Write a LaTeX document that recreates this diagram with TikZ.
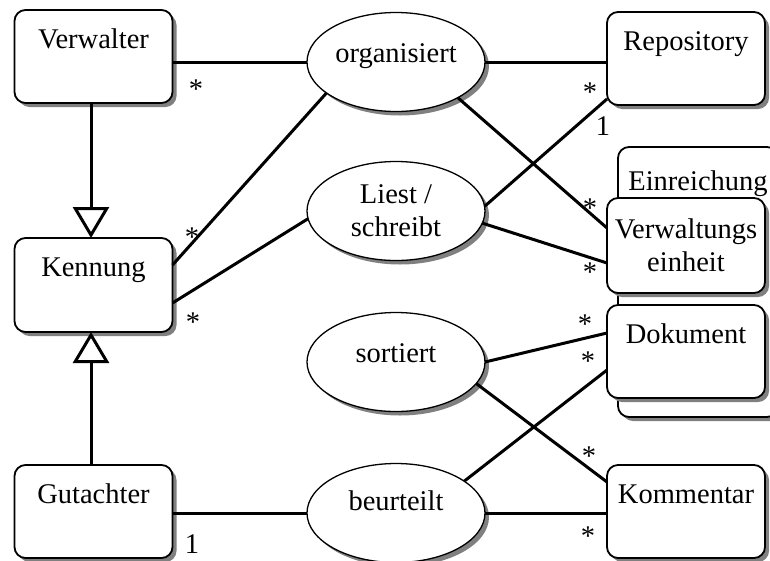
\documentclass[tikz,border=0pt]{standalone}
\usepackage{fontspec}
\setmainfont{Liberation Serif}
\usetikzlibrary{shapes.geometric,shadows,arrows.meta}
\begin{document}
\begin{tikzpicture}[x=1pt,y=-1pt,
  font=\fontsize{28.5}{33}\selectfont,
  boxshadow/.style={drop shadow={shadow xshift=4pt,shadow yshift=-4pt,fill=black!50,opacity=1}},
  entity/.style={draw,line width=1.8pt,rounded corners=11pt,fill=white,boxshadow,
    minimum width=158pt,minimum height=93pt,inner sep=0pt,outer sep=0pt,align=center},
  oneline/.style={text height=0pt,text depth=17pt},
  relation/.style={ellipse,draw,line width=1.3pt,fill=white,boxshadow,
    minimum width=178pt,minimum height=99pt,inner sep=0pt,outer sep=0pt,align=center},
  flat/.style={text height=0pt,text depth=0pt},
  assoc/.style={line width=3pt},
  inherit/.style={line width=3pt,-{Triangle[open,length=31pt,width=36pt]}},
  mult/.style={anchor=base,inner sep=0pt}
]
\useasboundingbox (0,0) rectangle (770,560);

% left column: actors
\node[entity,oneline] (verw) at (93.5,56.5) {Verwalter};
\node[entity,oneline,minimum height=94pt] (kenn) at (93.5,285) {Kennung};
\node[entity,oneline] (gut) at (93.5,511.5) {Gutachter};

% middle column: relations
\node[relation,flat] (org) at (396,62) {organisiert};
\node[relation] (lie) at (396,211) {Liest /\\schreibt};
\node[relation,flat] (sor) at (396,362) {sortiert};
\node[relation,text height=0pt,text depth=6pt] (beu) at (396,513) {beurteilt};

% right column: objects
\node[entity,oneline] (repo) at (686,58.5) {Repository};
\node[entity,minimum width=160pt,minimum height=270pt] (ein) at (698,282) {};
\node[anchor=base,inner sep=0pt] (eintitle) at ([yshift=-43pt]ein.north) {Einreichung};
\node[entity,minimum height=95pt] (ve) at (686,245.5) {Verwaltungs\\einheit};
\node[entity,oneline] (dok) at (686,351.5) {Dokument};
\node[entity,oneline] (komm) at (686,511.5) {Kommentar};

% generalisation
\draw[inherit] ([xshift=-2.5pt]verw.south) -- ([xshift=-2.5pt]kenn.north);
\draw[inherit] ([xshift=-2.5pt]gut.north) -- ([xshift=-2.5pt]kenn.south);

% associations
\draw[assoc] (org.west -| verw.east) -- (org.west);
\draw[assoc] (org.east) -- (org.east -| repo.west);
\draw[assoc] (org.-30) -- ([yshift=17.5pt]ve.west);
\draw[assoc] (lie.3) -- ([yshift=6pt]repo.south west);
\draw[assoc] (lie.-8) -- ([yshift=-17.5pt]ve.west);
\draw[assoc] ([yshift=20pt]kenn.east) -- (org.-156);
\draw[assoc] ([yshift=-18pt]kenn.east) -- (lie.185);
\draw[assoc] (beu.west -| gut.east) -- (beu.west);
\draw[assoc] (sor.east) -- ([yshift=18.5pt]dok.west);
\draw[assoc] (sor.-15) -- ([yshift=29.5pt]komm.west);
\draw[assoc] (beu.25) -- ([yshift=-18.5pt]dok.west);
\draw[assoc] (beu.east) -- (beu.east -| komm.west);

% multiplicities
\node[mult] (m1) at (196,98) {*};
\node[mult] (m2) at (590,101) {*};
\node[mult] (m3) at (590,217) {*};
\node[mult] (m4) at (603,135) {1};
\node[mult] (m5) at (590,281) {*};
\node[mult] (m6) at (192,246) {*};
\node[mult] (m7) at (193,331) {*};
\node[mult] (m8) at (192,553) {1};
\node[mult] (m9) at (585,333) {*};
\node[mult] (m10) at (589,465) {*};
\node[mult] (m11) at (588,370) {*};
\node[mult] (m12) at (588,545) {*};
\end{tikzpicture}
\end{document}
